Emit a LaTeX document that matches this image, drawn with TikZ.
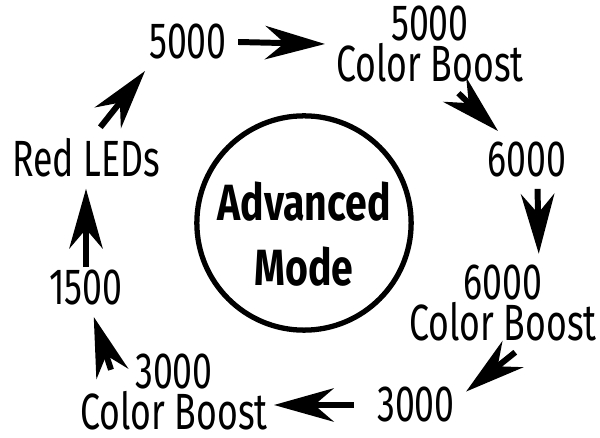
\documentclass[tikz,border=0pt]{standalone}
\usepackage{fontspec}
\setmainfont{Fira Sans}[FakeStretch=0.7]
\newfontfamily\hubfont{Fira Sans}[FakeStretch=0.77]
\usetikzlibrary{arrows.meta,calc}
\tikzset{
setting/.style={align=center, inner sep=0.22cm, font=\fontsize{29}{21.5}\selectfont},
hub/.style={circle, draw=black, line width=3pt, minimum size=4.2cm, inner sep=0pt, align=center, font=\hubfont\fontsize{29}{37}\selectfont\bfseries},
arrow/.style={line width=3.4pt, -{Stealth[length=34pt,width=19pt,inset=11pt]}}}

\begin{document}
\begin{tikzpicture}[x=0.02cm,y=-0.02cm]
\useasboundingbox (0,0) rectangle (600,438);
\node (hub) [hub] at (304,223) {\rule{0pt}{1.2cm}Advanced\\Mode};
\node (w5000) [setting] at (188,42) {5000};
\node (w5000cb) [setting] at (430,44) {5000\\Color Boost};
\node (w6000) [setting] at (527,160) {6000};
\node (w6000cb) [setting] at (503,303) {6000\\Color Boost};
\node (w3000) [setting] at (416,405) {3000};
\node (w3000cb) [setting] at (174,392) {3000\\Color Boost};
\node (w1500) [setting] at (86,288) {1500};
\node (red) [setting] at (86,158) {Red LEDs};

\draw [arrow] (w5000.east) -- (w5000cb.west);
\draw [arrow] (w5000cb.-60) -- (w6000.135);
\draw [arrow] (w6000.-70) -- (w6000cb.54);
\draw [arrow] (w6000cb.-76) -- (w3000.15);
\draw [arrow, shorten <=0.24cm, shorten >=-0.1cm] (w3000.west) -- (w3000.west -| w3000cb.east);
\draw [arrow] ($(w3000cb.north west)+(42,27)$) -- (w1500.-75);
\draw [arrow, shorten <=-0.16cm] (w1500.north) -- (red.south);
\draw [arrow] (red.65) -- (w5000.214);
\end{tikzpicture}
\end{document}
